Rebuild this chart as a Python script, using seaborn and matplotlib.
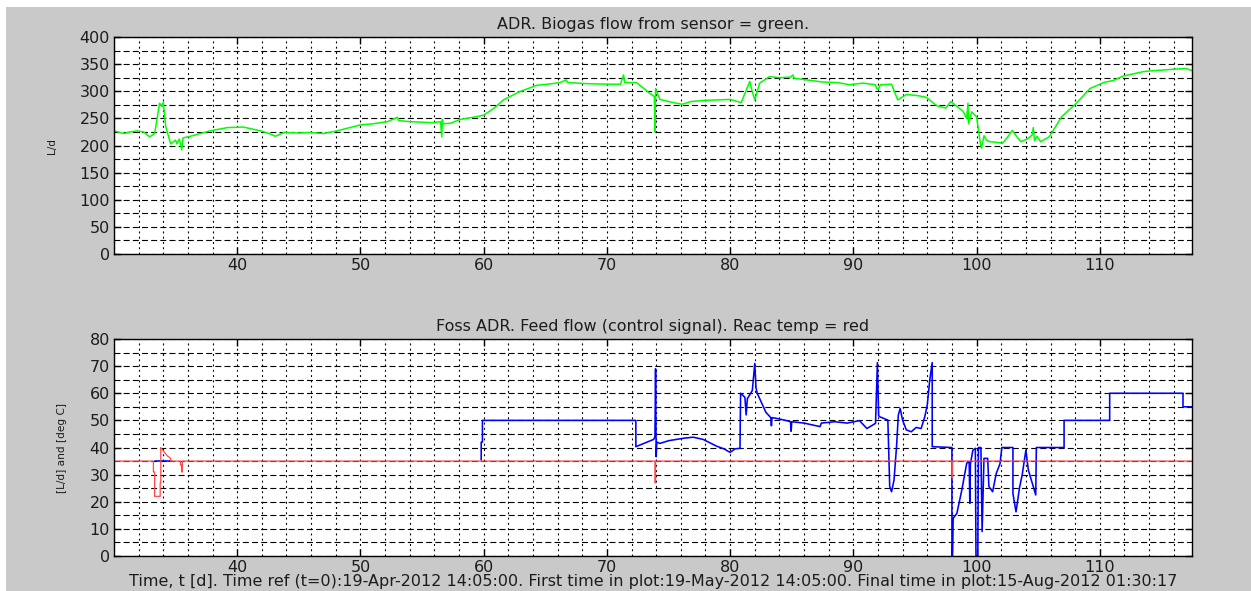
import numpy as np
import pandas as pd
import matplotlib
matplotlib.use("Agg")
import matplotlib.pyplot as plt
from matplotlib.patches import Rectangle
from matplotlib.ticker import MultipleLocator, FixedLocator
import seaborn as sns

# ---------------- data ----------------
# Biogas flow from sensor [L/d] versus time [d]
gas_day = [30.0, 30.8, 31.3, 31.9, 32.4, 32.9, 33.3, 33.5, 33.7, 33.9, 34.0, 34.2,
           34.6, 35.0, 35.1, 35.3, 35.5, 35.6, 36.2, 37.0, 37.8, 39.2, 40.5, 41.9,
           42.6, 43.1, 43.8, 45.0, 45.9, 47.0, 48.1, 50.0, 51.0, 52.2, 53.0, 53.1,
           54.0, 55.9, 56.5, 56.6, 56.65, 56.7, 57.3, 58.1, 59.4, 60.0, 60.8, 61.6,
           62.9, 64.3, 65.2, 66.2, 66.7, 66.8, 68.4, 70.0, 71.1, 71.35, 71.45, 72.4,
           73.5, 73.85, 73.9, 73.95, 74.3, 75.2, 76.1, 76.8, 77.8, 79.0, 80.0, 80.9,
           81.2, 81.6, 81.8, 82.0, 82.4, 83.2, 84.0, 84.9, 85.1, 85.2, 86.5, 87.5,
           88.7, 89.7, 90.8, 91.8, 91.9, 92.0, 92.2, 93.1, 93.6, 94.3, 95.2, 95.9,
           96.8, 97.5, 97.9, 98.2, 98.9, 99.2, 99.3, 99.35, 99.6, 100.0, 100.3, 100.4,
           100.6, 100.8, 101.1, 101.6, 102.1, 102.5, 102.9, 103.3, 103.6, 104.1, 104.5,
           104.6, 104.7, 104.9, 105.2, 105.5, 105.9, 106.9, 108.1, 109.2, 110.3,
           111.1, 111.9, 112.7, 113.5, 114.3, 115.1, 116.2, 117.0, 117.48]
gas_flow = [227, 222, 225, 227, 225, 216, 222, 250, 278, 272, 280, 235,
            203, 210, 203, 212, 192, 214, 217, 222, 227, 233, 234, 227,
            222, 217, 224, 223, 224, 222, 227, 238, 240, 244, 252, 246,
            244, 242, 244, 216, 248, 240, 241, 248, 253, 256, 268, 284,
            299, 311, 313, 316, 321, 316, 314, 313, 313, 330, 316, 316,
            296, 290, 225, 305, 285, 280, 276, 281, 283, 284, 285, 279,
            296, 318, 299, 284, 315, 327, 325, 326, 330, 324, 320, 317,
            316, 312, 315, 312, 305, 303, 312, 313, 284, 294, 292, 289,
            273, 269, 281, 276, 263, 250, 278, 240, 262, 253, 205, 195,
            218, 210, 207, 206, 204, 215, 228, 215, 207, 212, 219,
            233, 209, 217, 207, 211, 216, 253, 278, 305, 316,
            320, 328, 332, 336, 338, 339, 341, 342, 338]

# Feed flow (control signal) [L/d]: short early record and main record
feed_day_a = [33.35, 34.6]
feed_rate_a = [35, 35]

feed_day_b = [59.8, 59.8, 59.9, 59.9, 72.35, 72.35, 73.0, 73.8, 73.9, 73.95, 74.0,
              74.05, 74.3, 75.0, 76.2, 77.0, 77.8, 78.9, 79.5, 80.0, 80.4, 80.8,
              80.85, 81.2, 81.3, 81.4, 81.8, 82.0, 82.1, 82.2, 82.9, 83.3, 83.35,
              83.4, 83.7, 84.5, 84.9, 84.95, 85.0, 86.0, 87.3, 87.4, 88.5, 89.5,
              90.5, 91.1, 91.8, 91.95, 92.05, 92.1, 92.8, 92.95, 93.1, 93.3, 93.5,
              93.65, 93.8, 94.0, 94.3, 94.7, 95.1, 95.5, 95.8, 96.0, 96.2, 96.4,
              96.4, 98.0, 98.0, 98.05, 98.1, 98.4, 98.8, 99.2, 99.4, 99.45, 99.5,
              99.7, 99.9, 99.95, 100.1, 100.15, 100.35, 100.45, 100.6, 100.9, 101.0,
              101.3, 101.6, 101.9, 102.05, 102.95, 102.95, 103.2, 103.5, 103.7,
              104.0, 104.2, 104.6, 104.8, 104.85, 107.1, 107.1, 110.8, 110.8,
              116.75, 116.75, 117.48]
feed_rate_b = [35.4, 42, 42, 50, 50, 40.3, 41.5, 43, 44, 69, 36.6,
               42, 41.5, 42.5, 43.4, 43.8, 43, 40.5, 39.5, 38.2, 39.5, 39.7,
               60, 58.5, 52, 58, 61, 71, 62, 60, 53, 51, 48,
               51, 50.8, 50, 49.5, 46, 49.5, 49, 47.7, 49, 49.5, 49,
               49.9, 47, 48.9, 71.3, 52, 51.4, 50.1, 25.6, 23.7, 28, 40,
               52, 54.4, 50, 46.5, 45.8, 47.4, 47, 51.4, 55.7, 64.9, 71.3,
               40.3, 40, 0, 0, 13.9, 15.7, 24.3, 34.2, 34.8, 19.4, 34,
               39, 39.7, 0, 0, 40, 40, 9, 36, 36, 25.6,
               23.7, 30.5, 34, 40, 40, 23, 16.3, 25.6, 29.9,
               39, 31.7, 25.6, 22.5, 40, 40, 50, 50, 60,
               60, 55, 55]

# Reactor temperature [deg C]
temp_day = [30.0, 33.2, 33.2, 33.3, 33.3, 33.75, 33.75, 33.8, 33.8, 34.3, 34.6,
            34.6, 35.4, 35.4, 35.5, 35.5, 35.55, 35.55, 73.9, 73.9, 73.95, 73.95,
            98.0, 98.0, 98.05, 98.05, 117.48]
temp_val = [35, 35, 31, 31, 22, 22, 27, 27, 40, 37, 36,
            35, 35, 33.5, 33.5, 31, 31, 35, 35, 27, 27, 35,
            35, 29, 29, 35, 35]

day_ticks = [40, 50, 60, 70, 80, 90, 100, 110]

gas_title = "ADR. Biogas flow from sensor = green."
feed_title = "Foss ADR. Feed flow (control signal). Reac temp = red"
time_label = ("Time, t [d]. Time ref (t=0):19-Apr-2012 14:05:00. "
              "First time in plot:19-May-2012 14:05:00. "
              "Final time in plot:15-Aug-2012 01:30:17")
t_first, t_last = 30.0, 117.477

# ---------------- style ----------------
sns.set_theme(style="white")
plt.rcParams["font.family"] = ["DejaVu Sans"]
plt.rcParams["lines.scale_dashes"] = False
plt.rcParams["axes.linewidth"] = 1.0
plt.rcParams["axes.edgecolor"] = "black"

FS = 11.5
FS_Y = 7.6
TXT = "#1c1c1c"
fig = plt.figure(figsize=(12.51, 5.91), dpi=100, facecolor="white")
fig.patches.append(Rectangle((6 / 1251, 0), 1, 1 - 7 / 591,
                             transform=fig.transFigure, facecolor="#c9c9c9",
                             edgecolor="none", zorder=-10))

ax1 = fig.add_axes([0.0911, 0.5702, 0.8617, 0.3672])
ax2 = fig.add_axes([0.0911, 0.0592, 0.8617, 0.3672])

gas_df = pd.DataFrame({"day": gas_day, "flow": gas_flow})
sns.lineplot(data=gas_df, x="day", y="flow", ax=ax1, color="#00ff00",
             linewidth=1.1, estimator=None, sort=False, legend=False)

feed_a = pd.DataFrame({"day": feed_day_a, "rate": feed_rate_a})
feed_b = pd.DataFrame({"day": feed_day_b, "rate": feed_rate_b})
temp_df = pd.DataFrame({"day": temp_day, "temp": temp_val})
for part in (feed_a, feed_b):
    sns.lineplot(data=part, x="day", y="rate", ax=ax2, color="#0000ff",
                 linewidth=1.15, estimator=None, sort=False, legend=False)
sns.lineplot(data=temp_df, x="day", y="temp", ax=ax2, color="#ff4848",
             linewidth=0.9, estimator=None, sort=False, legend=False)


def matlab_axes(ax, ymax, ystep):
    ax.set_facecolor("white")
    ax.set_xlim(t_first, t_last)
    ax.set_ylim(0, ymax)
    ax.xaxis.set_major_locator(FixedLocator(day_ticks))
    ax.xaxis.set_minor_locator(MultipleLocator(2))
    ax.yaxis.set_major_locator(MultipleLocator(ystep))
    ax.yaxis.set_minor_locator(MultipleLocator(ystep / 2))
    ax.tick_params(which="major", direction="in", length=5, width=1.0,
                   top=True, right=True, bottom=True, left=True,
                   labelsize=FS, pad=3, colors="black", labelcolor=TXT)
    ax.tick_params(which="minor", length=0)
    ax.grid(True, which="both", axis="x", color="black",
            linestyle=(0, (1.4, 2.4)), linewidth=0.8)
    ax.grid(True, which="both", axis="y", color="black",
            linestyle=(0, (4.3, 2.3)), linewidth=0.8)
    ax.set_axisbelow(True)
    for s in ax.spines.values():
        s.set_visible(True)
        s.set_color("black")
        s.set_linewidth(1.0)


matlab_axes(ax1, 400, 50)
matlab_axes(ax2, 80, 10)

ax1.set_title(gas_title, fontsize=FS, pad=6, color=TXT)
ax2.set_title(feed_title, fontsize=FS, pad=6, color=TXT)
ax1.set_xlabel("")
ax1.set_ylabel("L/d", fontsize=FS_Y, color=TXT)
ax1.yaxis.set_label_coords(-0.053, 0.5)
ax2.set_ylabel("[L/d] and [deg C]", fontsize=FS_Y, color=TXT)
ax2.yaxis.set_label_coords(-0.044, 0.5)
ax2.set_xlabel(time_label, fontsize=FS, labelpad=-1, color=TXT)

fig.savefig("out.png", dpi=100, facecolor=fig.get_facecolor())
